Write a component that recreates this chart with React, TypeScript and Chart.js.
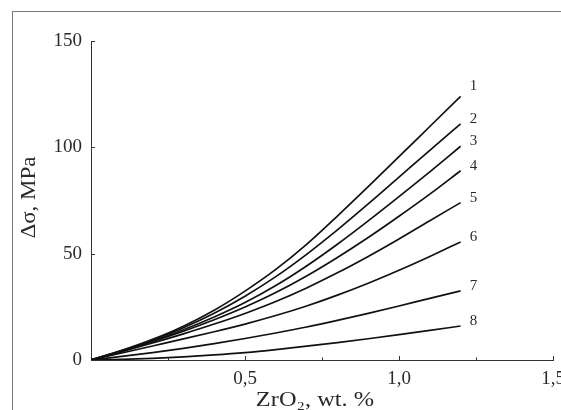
import React, { useEffect, useRef } from "react";
import { Chart, registerables } from "chart.js";

Chart.register(...registerables);

const xValues = [0, 0.1, 0.2, 0.3, 0.4, 0.5, 0.6, 0.7, 0.8, 0.9, 1.0, 1.1, 1.2];
const curve1 = [0, 4.5, 9.7, 15.9, 23.4, 32.4, 42.6, 54.4, 67.7, 81.5, 95.6, 109.8, 124];
const curve2 = [0, 4.4, 9.4, 15.2, 22, 30, 39.2, 49.7, 61.2, 73.4, 86, 98.6, 111];
const curve3 = [0, 4.2, 8.9, 14.2, 20.2, 27, 35, 44.2, 54.4, 65.4, 76.8, 88.5, 100.5];
const curve4 = [0, 4.1, 8.6, 13.5, 18.9, 24.9, 31.7, 39.5, 48.2, 57.6, 67.6, 78, 89];
const curve5 = [0, 3.9, 8, 12.3, 16.9, 21.9, 27.5, 33.9, 41, 48.7, 56.9, 65.5, 74];
const curve6 = [0, 3.3, 6.6, 9.9, 13.3, 16.9, 20.9, 25.4, 30.5, 36.1, 42.2, 48.7, 55.5];
const curve7 = [0, 1.7, 3.5, 5.5, 7.7, 10.1, 12.7, 15.5, 18.6, 21.9, 25.4, 29, 32.5];
const curve8 = [0, 0.3, 0.8, 1.5, 2.4, 3.5, 4.9, 6.5, 8.2, 10, 11.9, 13.9, 16];
const curveNames = ["1", "2", "3", "4", "5", "6", "7", "8"];
const xTickValues = [0.5, 1.0, 1.5];
const xTickLabels = ["0,5", "1,0", "1,5"];
const yTickValues = [0, 50, 100, 150];
const yTickLabels = ["0", "50", "100", "150"];
const xTitle = "ZrO\u2082, wt. %";
const yTitle = "\u0394\u03c3, MPa";

const allCurves = [curve1, curve2, curve3, curve4, curve5, curve6, curve7, curve8];

const AXIS_COLOR = "#333";
const TEXT_COLOR = "#2a2a2a";
const SERIF = "'Liberation Serif', 'Times New Roman', serif";

const decorPlugin = {
  id: "decor",
  afterDraw(chart: any) {
    const ctx = chart.ctx;
    const xs = chart.scales.x;
    const ys = chart.scales.y;
    const area = chart.chartArea;
    ctx.save();
    ctx.strokeStyle = AXIS_COLOR;
    ctx.lineWidth = 1;
    // y ticks pointing inward
    for (const v of yTickValues) {
      const py = Math.round(ys.getPixelForValue(v)) + 0.5;
      ctx.beginPath();
      ctx.moveTo(area.left, py);
      ctx.lineTo(area.left + 4, py);
      ctx.stroke();
    }
    // x ticks pointing inward (major + minor)
    for (let v = 0.25; v <= 1.5001; v += 0.25) {
      const major = xTickValues.some((t) => Math.abs(t - v) < 1e-6);
      const px = Math.round(xs.getPixelForValue(v)) + 0.5;
      ctx.beginPath();
      ctx.moveTo(px, area.bottom);
      ctx.lineTo(px, area.bottom - (major ? 4 : 2.5));
      ctx.stroke();
    }
    ctx.fillStyle = TEXT_COLOR;
    ctx.textAlign = "center";
    ctx.textBaseline = "middle";
    // curve labels
    ctx.font = "15px " + SERIF;
    const lastX = xValues[xValues.length - 1];
    allCurves.forEach((c, i) => {
      const px = xs.getPixelForValue(lastX) + 13;
      const py = ys.getPixelForValue(c[c.length - 1]) - (i === 0 ? 10 : 5);
      ctx.fillText(curveNames[i], px, py);
    });
    // x title (slightly widened like the reference)
    ctx.font = "20px " + SERIF;
    ctx.save();
    ctx.translate((area.left + area.right) / 2 - 7, area.bottom + 41);
    ctx.scale(1.22, 1);
    ctx.fillText(xTitle, 0, 0);
    ctx.restore();
    // y title
    ctx.save();
    ctx.translate(30, (area.top + area.bottom) / 2 - 3);
    ctx.rotate(-Math.PI / 2);
    ctx.scale(1.15, 1);
    ctx.fillText(yTitle, 0, 0);
    ctx.restore();
    ctx.restore();
  },
};

export default function App() {
  const canvasRef = useRef<HTMLCanvasElement | null>(null);

  useEffect(() => {
    const canvas = canvasRef.current;
    if (!canvas) return;
    const datasets = allCurves.map((c, i) => ({
      label: curveNames[i],
      data: xValues.map((x, j) => ({ x, y: c[j] })),
      borderColor: "#111",
      borderWidth: 1.7,
      pointRadius: 0,
      fill: false,
      cubicInterpolationMode: "monotone" as const,
    }));
    const chart = new Chart(canvas, {
      type: "line",
      data: { datasets },
      plugins: [decorPlugin],
      options: {
        animation: false,
        responsive: false,
        maintainAspectRatio: false,
        layout: { padding: { left: 0, top: 41, right: 47, bottom: 0 } },
        plugins: { legend: { display: false }, tooltip: { enabled: false } },
        scales: {
          x: {
            type: "linear",
            min: 0,
            max: 1.5,
            afterBuildTicks: (scale: any) => {
              scale.ticks = xTickValues.map((v) => ({ value: v }));
            },
            afterFit: (scale: any) => {
              scale.height = 50;
            },
            ticks: {
              autoSkip: false,
              maxRotation: 0,
              padding: 8,
              color: TEXT_COLOR,
              font: { family: SERIF, size: 19 },
              callback: (v: any) => {
                const i = xTickValues.findIndex((t) => Math.abs(t - Number(v)) < 1e-6);
                return i >= 0 ? xTickLabels[i] : "";
              },
            },
            grid: { display: false, drawTicks: false },
            border: { display: true, color: AXIS_COLOR, width: 1 },
            title: { display: false },
          },
          y: {
            type: "linear",
            min: 0,
            max: 150,
            afterBuildTicks: (scale: any) => {
              scale.ticks = yTickValues.map((v) => ({ value: v }));
            },
            afterFit: (scale: any) => {
              scale.width = 91;
            },
            ticks: {
              autoSkip: false,
              padding: 9,
              color: TEXT_COLOR,
              font: { family: SERIF, size: 19 },
              callback: (v: any) => {
                const i = yTickValues.indexOf(Number(v));
                return i >= 0 ? yTickLabels[i] : "";
              },
            },
            grid: { display: false, drawTicks: false },
            border: { display: true, color: AXIS_COLOR, width: 1 },
            title: { display: false },
          },
        },
      },
    });
    return () => chart.destroy();
  }, []);

  return (
    <div
      style={{
        position: "fixed",
        left: 0,
        top: 0,
        width: 561,
        height: 410,
        overflow: "hidden",
        background: "#fff",
      }}
    >
      <div
        style={{
          position: "absolute",
          left: 12,
          top: 11,
          width: 600,
          height: 450,
          borderLeft: "1px solid #777",
          borderTop: "1px solid #777",
        }}
      />
      <canvas
        ref={canvasRef}
        width={600}
        height={410}
        style={{ position: "absolute", left: 0, top: 0, width: 600, height: 410 }}
      />
    </div>
  );
}
